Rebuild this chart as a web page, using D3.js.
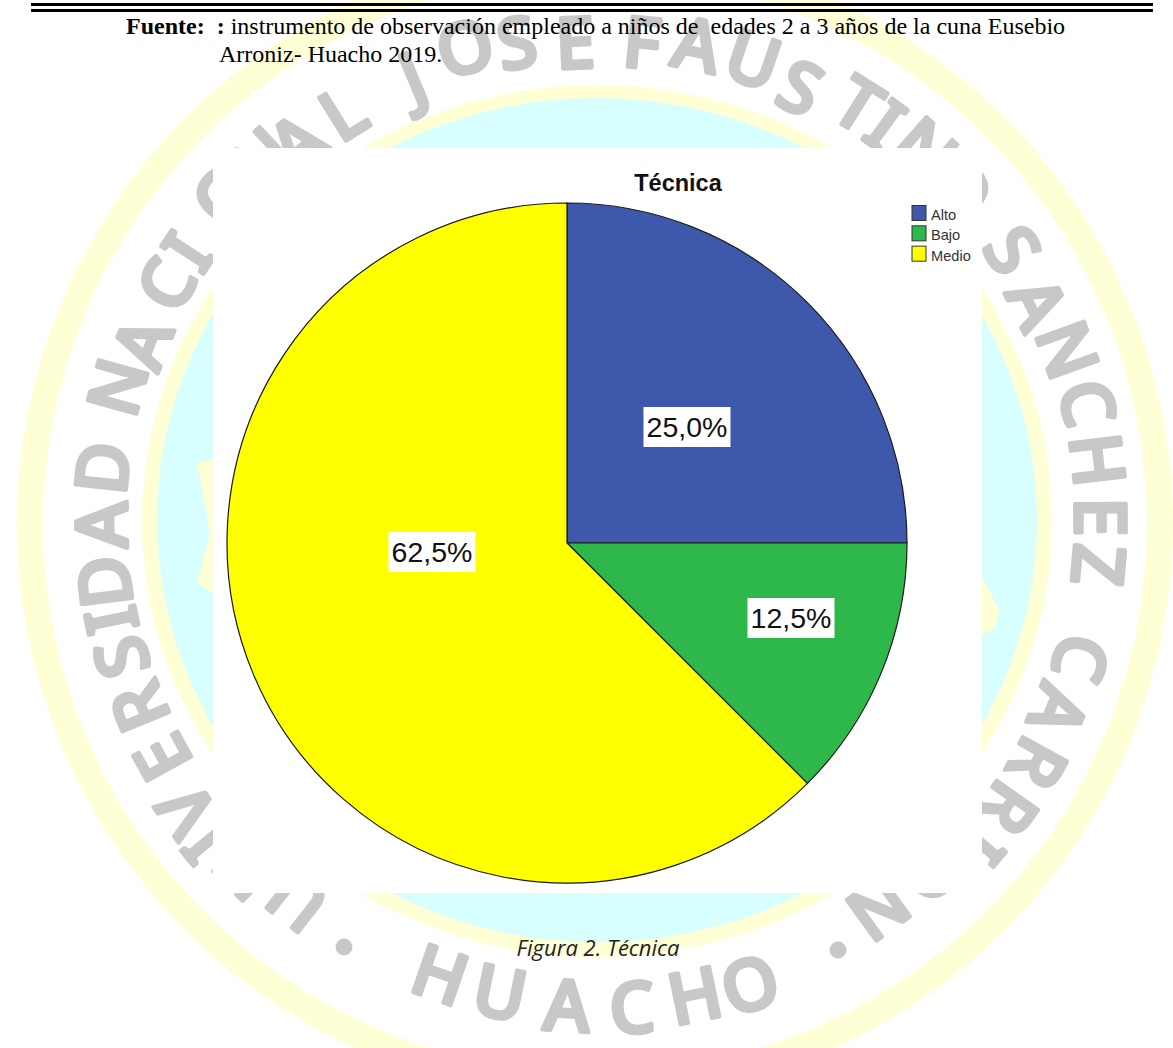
<!DOCTYPE html>
<html><head><meta charset="utf-8">
<script src="https://cdn.jsdelivr.net/npm/d3@7"></script>
<style>html,body{margin:0;padding:0;background:#fff;overflow:hidden}svg{display:block}</style>
</head><body><svg id="c" width="1173" height="1048"></svg>
<script>
const categories=["Alto","Bajo","Medio"];
const values=[25.0,12.5,62.5];
const colors=["#3E58AC","#2EB84A","#FFFF00"];
const chartTitle="Técnica";
const sourceBold="Fuente:  :";
const sourceLine1=" instrumento de observación empleado a niños de  edades 2 a 3 años de la cuna Eusebio";
const sourceLine2="Arroniz- Huacho 2019.";
const caption="Figura 2. Técnica";
const sealTop="UNIVERSIDADNACIONALJOSEFAUSTINOSANCHEZCARRION".split("");
const sealTopXY=[[298,900],[246,868],[207,842],[187,810],[163,757],[140,707],[122,657],[112,620],[105,582],[102,525],[103,468],[118,387],[143,343],[167,285],[188,252],[225,195],[262,160],[297,143],[343,113],[413,78],[465,48],[517,43],[575,43],[642,43],[697,45],[753,60],[800,88],[858,105],[885,125],[925,150],[960,190],[1012,250],[1037,303],[1067,350],[1087,403],[1097,460],[1100,517],[1098,565],[1080,658],[1058,710],[1037,763],[1008,808],[980,843],[930,870],[878,908]];
const sealBottom="HUACHO".split("");
const sealBottomXY=[[440,975],[500,993],[567,1006],[632,1008],[695,996],[750,985]];
const sealDots=[[344,947],[838,950]];

const svg=d3.select("#c");
const cx=597,cy=520,ink="#C8C8C8",pale="#FFFFD6";
const W=svg.append("g");
W.append("ellipse").attr("cx",595).attr("cy",524).attr("rx",578).attr("ry",576).attr("fill",pale);
W.append("ellipse").attr("cx",595).attr("cy",524).attr("rx",552).attr("ry",549).attr("fill","#fff");
W.append("ellipse").attr("cx",597).attr("cy",521).attr("rx",455).attr("ry",436).attr("fill",pale);
W.append("ellipse").attr("cx",597).attr("cy",520).attr("rx",440).attr("ry",422).attr("fill","#D8FFFF");
const starL=[[197,463],[213,460],[213,593],[197,583],[210,533]],starR=[[982,577],[999,610],[995,628],[982,635]];
[starL,starR].forEach(p=>W.append("path").attr("d",d3.line()(p)+"Z").attr("fill",pale));
const deg=180/Math.PI;
const seal=(ch,xy,flip)=>W.selectAll(null).data(ch).join("text")
  .attr("transform",(d,i)=>`translate(${xy[i]}) rotate(${Math.atan2(xy[i][0]-cx,cy-xy[i][1])*deg+(flip?180:0)})`)
  .attr("y",25).attr("text-anchor","middle").attr("font-family","Noto Sans").attr("font-weight",500).attr("font-size",71)
  .attr("fill",ink).attr("stroke",ink).attr("stroke-width",4).attr("stroke-linejoin","round").text(d=>d);
seal(sealTop,sealTopXY,false);
seal(sealBottom,sealBottomXY,true);
sealDots.forEach(p=>W.append("circle").attr("cx",p[0]).attr("cy",p[1]).attr("r",8.5).attr("fill",ink));

svg.append("rect").attr("x",213).attr("y",148).attr("width",769).attr("height",745).attr("fill","#fff");
[3,9].forEach(y=>svg.append("rect").attr("x",31).attr("y",y).attr("width",1122).attr("height",3).attr("fill","#000"));

const serif="Liberation Serif";
const t=svg.append("text").attr("x",126).attr("y",34).attr("font-family",serif).attr("font-size",24).style("white-space","pre");
t.append("tspan").attr("font-weight",700).text(sourceBold);
t.append("tspan").text(sourceLine1);
svg.append("text").attr("x",219).attr("y",62).attr("font-family",serif).attr("font-size",24).text(sourceLine2);

const pcx=567,pcy=543,R=340;
const pie=d3.pie().sort(null).value(d=>d)(values);
const arc=d3.arc().innerRadius(0).outerRadius(R);
const g=svg.append("g").attr("transform",`translate(${pcx},${pcy})`);
g.selectAll("path").data(pie).join("path").attr("d",arc).attr("fill",(d,i)=>colors[i]).attr("stroke","#1a1a1a").attr("stroke-width",1.2);
const labelPos=[[120,-116],[224,75],[-135,9]];
const lbl=g.selectAll("g.l").data(values).join("g").attr("class","l").attr("transform",(d,i)=>`translate(${labelPos[i]})`);
lbl.append("rect").attr("x",-43.5).attr("y",-20).attr("width",87).attr("height",40).attr("fill","#fff");
lbl.append("text").attr("text-anchor","middle").attr("y",10).attr("font-family","Liberation Sans").attr("font-size",28.5).attr("fill","#111").text(d=>d.toFixed(1).replace(".",",")+"%");

svg.append("text").attr("x",678).attr("y",191).attr("text-anchor","middle").attr("font-family","Liberation Sans").attr("font-weight",700).attr("font-size",23.5).attr("fill","#111").text(chartTitle);
const ly=d3.scaleBand().domain(categories).range([205,266]);
const lg=svg.selectAll("g.k").data(categories).join("g").attr("class","k").attr("transform",d=>`translate(912,${ly(d)})`);
lg.append("rect").attr("y",0.5).attr("width",14).attr("height",15).attr("fill",(d,i)=>colors[i]).attr("stroke","#333").attr("stroke-width",1);
lg.append("text").attr("x",19).attr("y",15).attr("font-family","Liberation Sans").attr("font-size",14.6).attr("fill","#333").text(d=>d);

svg.append("text").attr("x",598).attr("y",956).attr("text-anchor","middle").attr("font-family","Open Sans").attr("font-style","italic").attr("font-size",22).attr("fill","#222").text(caption);
</script></body></html>
